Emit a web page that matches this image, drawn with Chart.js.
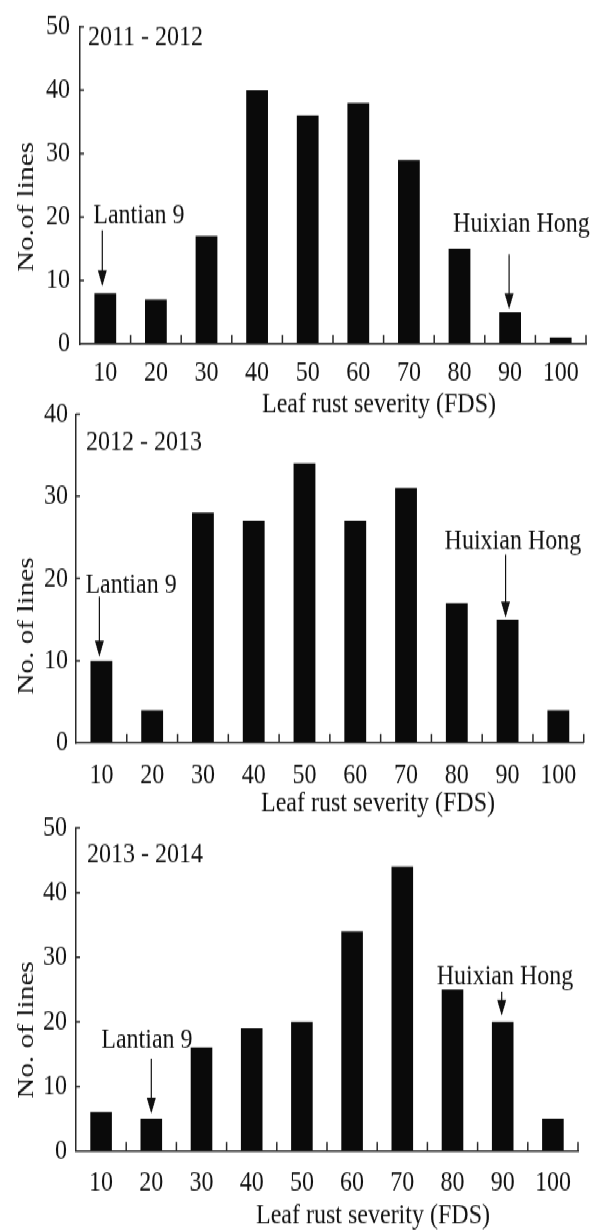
<!DOCTYPE html>
<html>
<head>
<meta charset="utf-8">
<script src="https://cdn.jsdelivr.net/npm/chart.js@4/dist/chart.umd.min.js"></script>
<style>
html,body{margin:0;padding:0;background:#fff;overflow:hidden;}
#page{width:591px;height:1232px;overflow:hidden;position:relative;}
#wrap{position:absolute;left:0;top:0;width:591px;height:1010px;transform-origin:0 0;}
canvas{position:absolute;left:0;top:0;}
</style>
</head>
<body>
<div id="page"><div id="wrap">
<canvas id="c1" width="591" height="1010"></canvas>
<canvas id="c2" width="591" height="1010"></canvas>
<canvas id="c3" width="591" height="1010"></canvas>
</div></div>
<script>
// ---------- data ----------
const categories = ['10','20','30','40','50','60','70','80','90','100'];
const lines2011_2012 = [8, 7, 17, 40, 36, 38, 29, 15, 5, 1];
const lines2012_2013 = [10, 4, 28, 27, 34, 27, 31, 17, 15, 4];
const lines2013_2014 = [6, 5, 16, 19, 20, 34, 44, 25, 20, 5];
const yMaxima = [50, 40, 50];
const yStep = 10;
const seasonLabels = ['2011 - 2012', '2012 - 2013', '2013 - 2014'];
const yTitles = ['No.of lines', 'No. of lines', 'No. of lines'];
const xTitle = 'Leaf rust severity (FDS)';
const lantianName = 'Lantian 9';
const huixianName = 'Huixian Hong';
const lantianCategory = ['10', '10', '20'];
const huixianCategory = ['90', '90', '90'];

// ---------- layout / style ----------
const PAGE_H = 1232, CAN_H = 1010;
const S = PAGE_H / CAN_H;             // the figure is drawn tall and narrow
document.getElementById('wrap').style.transform = 'scaleY(' + S + ')';
const cy = y => y / S;                 // page y -> canvas y
const FONT = '"Liberation Serif", "Times New Roman", serif';
const FS = 24;
const TXT = '#111111';
const AXIS = '#2a2a2a';
const BAR = '#0a0a0a';
const XH = 50;

const panels = [
  { values: lines2011_2012, left: 80, right: 586, top: 15, bottom: 344, yPad: 10, xPad: 12,
    season: { dx: 8, y: 37 }, xTitlePos: { x: 379, y: 405 }, yTitlePos: { x: 27, y: 207 },
    ann: [
      { name: lantianName, cat: lantianCategory[0], dx: -3, gap: 7, len: 56, tdx: -9, tdy: -15 },
      { name: huixianName, cat: huixianCategory[0], dx: -1, gap: 3, len: 55, tdx: -56, tdy: -30 }
    ] },
  { values: lines2012_2013, left: 76, right: 588, top: 414, bottom: 743, yPad: 8, xPad: 14.5,
    season: { dx: 10, y: 443 }, xTitlePos: { x: 378, y: 803 }, yTitlePos: { x: 27, y: 626 },
    ann: [
      { name: lantianName, cat: lantianCategory[1], dx: -2, gap: 4, len: 60, tdx: -14, tdy: -12 },
      { name: huixianName, cat: huixianCategory[1], dx: -2, gap: 2, len: 63, tdx: -61, tdy: -14 }
    ] },
  { values: lines2013_2014, left: 76, right: 578, top: 828, bottom: 1151, yPad: 9, xPad: 14,
    season: { dx: 11, y: 855 }, xTitlePos: { x: 373, y: 1216 }, yTitlePos: { x: 27, y: 1030 },
    ann: [
      { name: lantianName, cat: lantianCategory[2], dx: 0, gap: 5, len: 55, tdx: -50, tdy: -18 },
      { name: huixianName, cat: huixianCategory[2], dx: -1, gap: 6, len: 24, tdx: -65, tdy: -15 }
    ] }
];

function drawArrow(ctx, x, y0, y1) {
  const headL = cy(16), headW = 4.5;
  ctx.save();
  ctx.strokeStyle = '#111';
  ctx.fillStyle = '#111';
  ctx.lineWidth = 1.2;
  ctx.beginPath();
  ctx.moveTo(x, y0);
  ctx.lineTo(x, y1 - headL + 2);
  ctx.stroke();
  ctx.beginPath();
  ctx.moveTo(x, y1);
  ctx.lineTo(x - headW, y1 - headL);
  ctx.lineTo(x + headW, y1 - headL);
  ctx.closePath();
  ctx.fill();
  ctx.restore();
}

const decor = {
  id: 'decor',
  afterDraw(chart, args, cfg) {
    const ctx = chart.ctx;
    const xs = chart.scales.x, ys = chart.scales.y;
    const area = chart.chartArea;
    ctx.save();
    ctx.strokeStyle = AXIS;
    ctx.lineWidth = 1.5;
    ctx.beginPath();
    // inward x ticks between categories
    for (let i = 0; i < categories.length; i++) {
      const x = xs.getPixelForValue(i + 0.5);
      ctx.moveTo(x, area.bottom);
      ctx.lineTo(x, area.bottom - cy(9));
    }
    // inward y ticks
    for (let v = yStep; v <= cfg.max; v += yStep) {
      const y = ys.getPixelForValue(v);
      ctx.moveTo(area.left, y);
      ctx.lineTo(area.left + 4, y);
    }
    ctx.stroke();

    ctx.fillStyle = TXT;
    ctx.font = FS + 'px ' + FONT;
    ctx.textBaseline = 'middle';
    ctx.textAlign = 'left';
    ctx.fillText(cfg.season.text, area.left + cfg.season.dx, cy(cfg.season.y));
    ctx.textAlign = 'center';
    ctx.fillText(xTitle, cfg.xTitlePos.x, cy(cfg.xTitlePos.y));
    ctx.save();
    ctx.translate(cfg.yTitlePos.x, cy(cfg.yTitlePos.y));
    ctx.rotate(-Math.PI / 2);
    ctx.fillText(cfg.yTitle, 0, 0);
    ctx.restore();
    ctx.textAlign = 'left';
    cfg.ann.forEach(a => {
      const idx = categories.indexOf(a.cat);
      const x = xs.getPixelForValue(idx) + a.dx;
      const barTop = ys.getPixelForValue(cfg.values[idx]);
      const tip = barTop - cy(a.gap);
      const top = tip - cy(a.len);
      drawArrow(ctx, x, top, tip);
      ctx.fillText(a.name, x + a.tdx, top + cy(a.tdy));
    });
    ctx.restore();
  }
};

function makeChart(id, p, k) {
  const tickFont = { family: FONT, size: FS, lineHeight: 1 };
  return new Chart(document.getElementById(id), {
    type: 'bar',
    data: {
      labels: categories,
      datasets: [{
        data: p.values,
        backgroundColor: BAR,
        borderWidth: 0,
        barPercentage: 0.43,
        categoryPercentage: 1
      }]
    },
    options: {
      responsive: false,
      animation: false,
      devicePixelRatio: 1,
      events: [],
      layout: { padding: { left: 0, right: 591 - p.right, top: cy(p.top), bottom: CAN_H - cy(p.bottom) - XH } },
      plugins: {
        legend: { display: false },
        tooltip: { enabled: false },
        decor: {
          max: yMaxima[k], values: p.values,
          season: { text: seasonLabels[k], dx: p.season.dx, y: p.season.y },
          yTitle: yTitles[k], xTitlePos: p.xTitlePos, yTitlePos: p.yTitlePos, ann: p.ann
        }
      },
      scales: {
        x: {
          type: 'category',
          offset: true,
          grid: { display: true, drawOnChartArea: false, drawTicks: false, offset: true },
          border: { display: true, color: AXIS, width: 1.5 },
          ticks: { font: tickFont, color: TXT, padding: p.xPad, maxRotation: 0, autoSkip: false },
          afterFit: s => { s.height = XH; }
        },
        y: {
          min: 0, max: yMaxima[k],
          grid: { display: true, drawOnChartArea: false, drawTicks: false },
          border: { display: true, color: AXIS, width: 1.5 },
          ticks: { stepSize: yStep, font: tickFont, color: TXT, padding: p.yPad },
          afterFit: s => { s.width = p.left; }
        }
      }
    },
    plugins: [decor]
  });
}

makeChart('c1', panels[0], 0);
makeChart('c2', panels[1], 1);
makeChart('c3', panels[2], 2);
</script>
</body>
</html>
